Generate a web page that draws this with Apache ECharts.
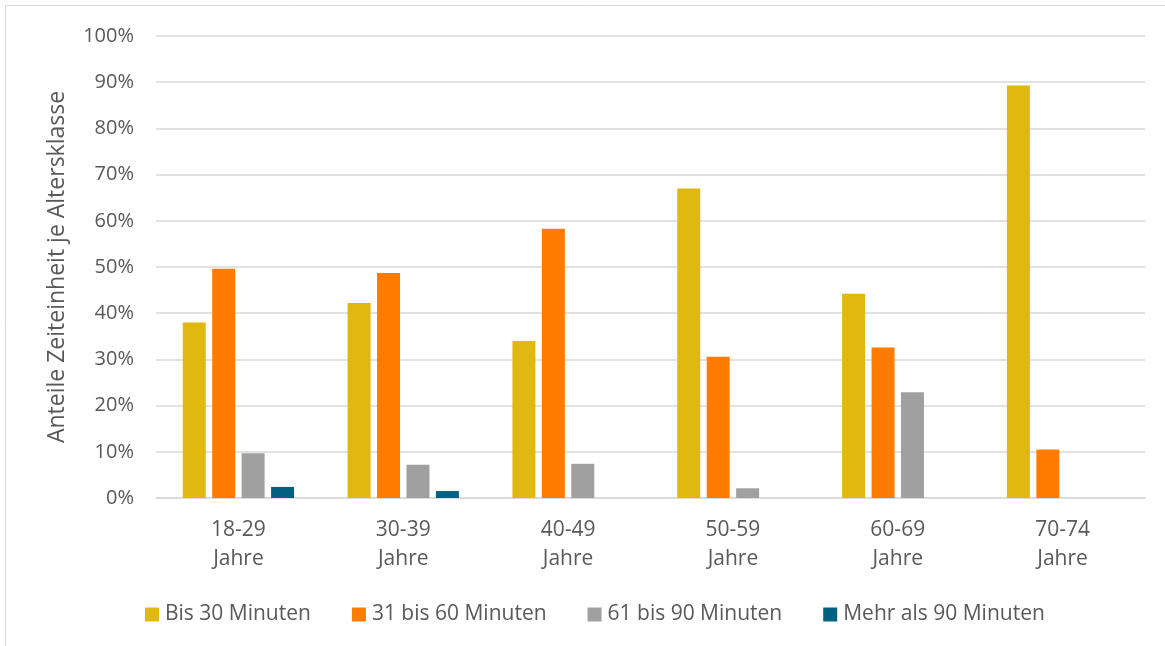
<!DOCTYPE html>
<html>
<head>
<meta charset="utf-8">
<script src="https://cdn.jsdelivr.net/npm/echarts@6/dist/echarts.min.js"></script>
<style>
html,body{margin:0;padding:0;background:#fff;}
#chart{width:1165px;height:646px;}
</style>
</head>
<body>
<div id="chart"></div>
<script>
const categories = ["18-29\nJahre", "30-39\nJahre", "40-49\nJahre", "50-59\nJahre", "60-69\nJahre", "70-74\nJahre"];
const seriesNames = ["Bis 30 Minuten", "31 bis 60 Minuten", "61 bis 90 Minuten", "Mehr als 90 Minuten"];
const bis30 = [38.0, 42.2, 34.0, 67.0, 44.2, 89.3];
const bis60 = [49.6, 48.7, 58.3, 30.6, 32.6, 10.5];
const bis90 = [9.7, 7.2, 7.4, 2.1, 22.9, 0];
const mehr90 = [2.4, 1.5, 0, 0, 0, 0];
const colors = ["#E1B80F", "#FF7C00", "#A0A0A0", "#00607F"];
const yAxisTitle = "Anteile Zeiteinheit je Altersklasse";

const FONT = "'Open Sans', sans-serif";
const TXT = "#595959";

const chart = echarts.init(document.getElementById('chart'), null, {renderer: 'canvas'});
const values = [bis30, bis60, bis90, mehr90];
chart.setOption({
  animation: false,
  backgroundColor: '#fff',
  textStyle: {fontFamily: FONT},
  graphic: [{
    type: 'rect', silent: true,
    shape: {x: 5.5, y: 5.5, width: 1170, height: 660},
    style: {fill: 'none', stroke: '#d9d9d9', lineWidth: 1}
  }],
  grid: {left: 156, right: 20, top: 36, bottom: 148, containLabel: false},
  legend: {
    data: seriesNames,
    left: 140, top: 599,
    itemWidth: 14, itemHeight: 14, itemGap: 41,
    icon: 'rect',
    textStyle: {color: TXT, fontSize: 21, fontFamily: FONT, padding: [0, 0, 0, 1]}
  },
  xAxis: {
    type: 'category',
    data: categories,
    axisLine: {show: true, lineStyle: {color: '#d9d9d9', width: 1.5}},
    axisTick: {show: false},
    axisLabel: {color: TXT, fontSize: 21, fontFamily: FONT, lineHeight: 29.5, margin: 17, interval: 0}
  },
  yAxis: {
    type: 'value',
    min: 0, max: 100, interval: 10,
    name: yAxisTitle,
    nameLocation: 'middle',
    nameGap: 87,
    nameTextStyle: {color: TXT, fontSize: 23, fontFamily: FONT},
    axisLine: {show: false},
    axisTick: {show: false},
    axisLabel: {color: TXT, fontSize: 20, fontFamily: FONT, margin: 22, formatter: '{value}%'},
    splitLine: {lineStyle: {color: '#d9d9d9', width: 1.5}}
  },
  series: seriesNames.map((n, i) => ({
    name: n,
    type: 'bar',
    data: values[i],
    barWidth: 23,
    barGap: '28%',
    itemStyle: {color: colors[i]}
  }))
});
</script>
</body>
</html>
